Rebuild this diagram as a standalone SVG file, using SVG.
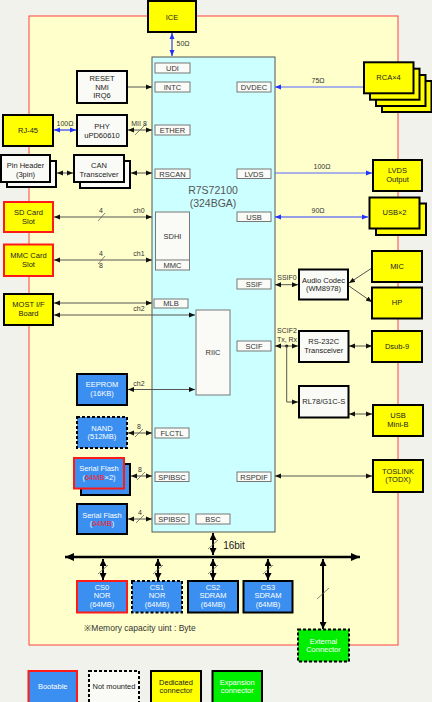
<svg xmlns="http://www.w3.org/2000/svg" width="432" height="702" viewBox="0 0 432 702">
<defs>
<style>
text{font-family:"Liberation Sans",Arial,sans-serif;font-size:7.5px;text-anchor:middle;fill:#222}
.w{fill:#fff}
.rt{fill:#ff2020}
.pt{fill:#333}
.yl{fill:#ffff00;stroke:#000;stroke-width:2}
.wh{fill:#fafaf6;stroke:#000;stroke-width:2}
.bl{fill:#3b8ff0;stroke:#000;stroke-width:2}
.gr{fill:#00ee00;stroke:#000;stroke-width:2}
.red{stroke:#ff1a1a}
.dash{stroke-dasharray:3 2}
.pin{fill:#fafaf6;stroke:#777;stroke-width:1}
.c{fill:none;stroke:#555;stroke-width:1;marker-start:url(#ah);marker-end:url(#ah)}
.c1{fill:none;stroke:#555;stroke-width:1;marker-end:url(#ah)}
.b{fill:none;stroke:#2a3cff;stroke-width:1.2;marker-start:url(#bh);marker-end:url(#bh)}
.b1{fill:none;stroke:#5566ff;stroke-width:1;marker-end:url(#bh)}
.bus{fill:none;stroke:#000;stroke-width:2.5;marker-start:url(#kh);marker-end:url(#kh)}
.vb{fill:none;stroke:#000;stroke-width:2;marker-start:url(#vh);marker-end:url(#vh)}
.sl{stroke:#666;stroke-width:0.8}
.lb{font-size:7px;fill:#333}
</style>
<marker id="ah" viewBox="0 0 6 6" refX="6" refY="3" markerWidth="6" markerHeight="6" markerUnits="userSpaceOnUse" orient="auto-start-reverse"><path d="M0,0.5 L6,3 L0,5.5z" fill="#111"/></marker>
<marker id="bh" viewBox="0 0 6 6" refX="6" refY="3" markerWidth="6" markerHeight="6" markerUnits="userSpaceOnUse" orient="auto-start-reverse"><path d="M0,0.5 L6,3 L0,5.5z" fill="#2233ff"/></marker>
<marker id="kh" viewBox="0 0 9 8" refX="9" refY="4" markerWidth="9" markerHeight="8" markerUnits="userSpaceOnUse" orient="auto-start-reverse"><path d="M0,0 L9,4 L0,8z" fill="#000"/></marker>
<marker id="vh" viewBox="0 0 7 7" refX="7" refY="3.5" markerWidth="7" markerHeight="7" markerUnits="userSpaceOnUse" orient="auto-start-reverse"><path d="M0,0 L7,3.5 L0,7z" fill="#000"/></marker>
</defs>
<rect x="0" y="0" width="432" height="702" fill="#f2f2ec"/>
<g id="board"><rect x="29" y="16" width="369" height="629" fill="#ffffcc" stroke="#ff4040" stroke-width="1"/></g>

<g id="chip">
<rect x="152" y="57" width="123" height="475" fill="#ccffff" stroke="#555" stroke-width="1"/>
<text x="213" y="194" style="font-size:10.5px;fill:#555">R7S72100</text>
<text x="213" y="207" style="font-size:10.5px;fill:#555">(324BGA)</text>
<rect class="pin" x="155" y="63" width="35" height="10"/><text class="pt" x="172.5" y="71">UDI</text>
<rect class="pin" x="155" y="82" width="35" height="10"/><text class="pt" x="172.5" y="90">INTC</text>
<rect class="pin" x="155" y="125" width="35" height="10"/><text class="pt" x="172.5" y="133">ETHER</text>
<rect class="pin" x="155" y="169" width="35" height="9.5"/><text class="pt" x="172.5" y="176.5">RSCAN</text>
<rect class="pin" x="237" y="82" width="34" height="10"/><text class="pt" x="254" y="90">DVDEC</text>
<rect class="pin" x="237" y="169" width="34" height="9.5"/><text class="pt" x="254" y="176.5">LVDS</text>
<rect class="pin" x="237" y="212" width="34" height="9.5"/><text class="pt" x="254" y="219.5">USB</text>
<rect class="pin" x="155.5" y="212" width="34" height="58"/><line x1="155.5" y1="260" x2="189.5" y2="260" stroke="#777"/>
<text class="pt" x="172.5" y="239">SDHI</text><text class="pt" x="172.5" y="268">MMC</text>
<rect class="pin" x="237" y="279" width="34" height="10"/><text class="pt" x="254" y="287">SSIF</text>
<rect class="pin" x="154" y="299" width="34" height="9"/><text class="pt" x="171" y="306">MLB</text>
<rect class="pin" x="196" y="310" width="34" height="85"/><text class="pt" x="213" y="355">RIIC</text>
<rect class="pin" x="237" y="341" width="34" height="10"/><text class="pt" x="254" y="349">SCIF</text>
<rect class="pin" x="155" y="428" width="34" height="10"/><text class="pt" x="172" y="436">FLCTL</text>
<rect class="pin" x="155" y="472" width="34" height="9.5"/><text class="pt" x="172" y="479.5">SPIBSC</text>
<rect class="pin" x="237" y="472" width="34" height="9.5"/><text class="pt" x="254" y="479.5">RSPDIF</text>
<rect class="pin" x="155" y="514" width="34" height="10"/><text class="pt" x="172" y="522">SPIBSC</text>
<rect class="pin" x="196" y="514" width="34" height="10"/><text class="pt" x="213" y="522">BSC</text>
</g>

<g id="connectors">
<path class="b" d="M172,33 V56"/><text class="lb" x="183" y="46">50Ω</text>
<path class="c1" d="M128,87 H152"/>
<path class="b" d="M54,130 H76"/><text class="lb" x="65" y="126">100Ω</text>
<path class="c" d="M128,130 H152"/><line class="sl" x1="135" y1="135" x2="146" y2="124"/><text class="lb" x="136" y="126">MII</text><text class="lb" x="145" y="126">8</text>
<path class="c" d="M57,173 H73"/>
<path class="c" d="M131,173 H152"/>
<path class="b1" d="M363,87 H275"/><text class="lb" x="318" y="83">75Ω</text>
<path class="b1" d="M275,173 H372"/><text class="lb" x="322" y="169">100Ω</text>
<path class="b" d="M275,217 H368"/><text class="lb" x="318" y="213">90Ω</text>
<path class="c" d="M54,217 H152"/><line class="sl" x1="98" y1="221" x2="105" y2="213"/><text class="lb" x="101" y="213">4</text><text class="lb" x="139" y="213">ch0</text>
<path class="c" d="M54,260 H152"/><line class="sl" x1="98" y1="264" x2="105" y2="256"/><text class="lb" x="101" y="256">4</text><text class="lb" x="101" y="268">8</text><text class="lb" x="139" y="256">ch1</text>
<path class="c" d="M54,303 H152"/>
<path class="c" d="M54,315 H195"/><text class="lb" x="139" y="311">ch2</text>
<path class="c" d="M128,389.5 H195"/><text class="lb" x="139" y="386">ch2</text>
<path class="c" d="M128,433 H152"/><line class="sl" x1="135" y1="437" x2="143" y2="429"/><text class="lb" x="139" y="429">8</text>
<path class="c" d="M131,476 H152"/><line class="sl" x1="137" y1="480" x2="145" y2="472"/><text class="lb" x="140" y="472">8</text>
<path class="c" d="M128,519 H152"/><line class="sl" x1="136" y1="523" x2="144" y2="515"/><text class="lb" x="140" y="515">4</text>
<path class="c" d="M275,284.7 H298"/><text class="lb" x="287" y="280">SSIF0</text>
<path class="c1" d="M372,268 L349,283"/>
<path class="c1" d="M349,286 L372,302"/>
<path class="c" d="M275,346 H298"/><text class="lb" x="287" y="333">SCIF2</text><text class="lb" x="287" y="342">Tx, Rx</text>
<circle cx="286.7" cy="346" r="1.6" fill="#222"/>
<path class="c1" d="M286.7,346 V402 H298"/>
<path class="c" d="M349,346 H372"/>
<path class="c" d="M349,414 H372"/>
<path class="c" d="M275,476 H372"/>
<path class="bus" d="M65,557 H360"/>
<path class="vb" d="M213,533 V555"/><line class="sl" x1="208" y1="549" x2="218" y2="540"/><text x="234" y="549" style="font-size:10px;fill:#222">16bit</text>
<path class="vb" d="M103,559 V580"/><line class="sl" x1="98" y1="574" x2="108" y2="565"/>
<path class="vb" d="M158,559 V580"/><line class="sl" x1="153" y1="574" x2="163" y2="565"/>
<path class="vb" d="M213,559 V580"/><line class="sl" x1="208" y1="574" x2="218" y2="565"/>
<path class="vb" d="M268,559 V580"/><line class="sl" x1="263" y1="574" x2="273" y2="565"/>
<path class="vb" d="M323,559 V629"/><line class="sl" x1="317" y1="599" x2="329" y2="588"/>
</g>

<g id="ice"><rect class="yl" x="148" y="1" width="48" height="31"/><text x="172" y="19.5">ICE</text></g>
<g id="reset"><rect class="wh" x="77" y="71" width="50" height="32"/><text x="102" y="81">RESET</text><text x="102" y="89.5">NMI</text><text x="102" y="98">IRQ6</text></g>
<g id="rj45"><rect class="yl" x="3" y="115" width="50" height="31"/><text x="28" y="133">RJ-45</text></g>
<g id="phy"><rect class="wh" x="77" y="115" width="50" height="31"/><text x="102" y="128.5">PHY</text><text x="102" y="137.5">uPD60610</text></g>
<g id="pinheader"><rect class="wh" x="7" y="161" width="49" height="26"/><rect class="wh" x="1" y="155" width="49" height="27"/><text x="25.5" y="167.7">Pin Header</text><text x="25.5" y="176.7">(3pin)</text></g>
<g id="can"><rect class="wh" x="80" y="161" width="50" height="27"/><rect class="wh" x="74" y="155" width="50" height="27"/><text x="99" y="168">CAN</text><text x="99" y="177">Transceiver</text></g>
<g id="sd"><rect class="yl red" x="4" y="202" width="49" height="30"/><text x="28.5" y="215">SD Card</text><text x="28.5" y="223.7">Slot</text></g>
<g id="mmc"><rect class="yl red" x="4" y="244.5" width="49" height="31.5"/><text x="28.5" y="258.3">MMC Card</text><text x="28.5" y="266.7">Slot</text></g>
<g id="most"><rect class="yl" x="4" y="294" width="49" height="31"/><text x="28.5" y="307.3">MOST I/F</text><text x="28.5" y="316">Board</text></g>
<g id="eeprom"><rect class="bl" x="77" y="374" width="50" height="31"/><text class="w" x="102" y="387.3">EEPROM</text><text class="w" x="102" y="396">(16KB)</text></g>
<g id="nand"><rect class="bl dash" x="77" y="417" width="50" height="31"/><text class="w" x="102" y="431">NAND</text><text class="w" x="102" y="439.3">(512MB)</text></g>
<g id="sflash2"><rect class="bl" x="81" y="464" width="49" height="31"/><rect class="bl red" x="74" y="458" width="50" height="30.5"/><text class="w" x="99" y="471">Serial Flash</text><text class="w" x="99" y="480">(<tspan class="rt">64MB</tspan>×2)</text></g>
<g id="sflash"><rect class="bl" x="77" y="504" width="50" height="30"/><text class="w" x="102" y="517.7">Serial Flash</text><text class="w" x="102" y="526">(<tspan class="rt">64MB</tspan>)</text></g>

<g id="rca"><rect class="yl" x="382" y="81" width="49.5" height="31"/><rect class="yl" x="376" y="75" width="49.5" height="31"/><rect class="yl" x="370" y="68.7" width="49.5" height="31"/><rect class="yl" x="364" y="62.3" width="49.5" height="31"/><text x="388.5" y="80">RCA×4</text></g>
<g id="lvds"><rect class="yl" x="373" y="160" width="49" height="31"/><text x="397.5" y="173.3">LVDS</text><text x="397.5" y="182.3">Output</text></g>
<g id="usb2"><rect class="yl" x="376" y="203.5" width="50" height="31.5"/><rect class="yl" x="369.5" y="197.5" width="50" height="31"/><text x="394.5" y="215">USB×2</text></g>
<g id="mic"><rect class="yl" x="372" y="251" width="50" height="31"/><text x="397" y="268.7">MIC</text></g>
<g id="hp"><rect class="yl" x="372" y="287.5" width="50" height="31"/><text x="397" y="305.3">HP</text></g>
<g id="codec"><rect class="wh" x="299" y="269.5" width="49" height="30"/><text x="323.5" y="282.7">Audio Codec</text><text x="323.5" y="291">(WM8978)</text></g>
<g id="rs232"><rect class="wh" x="299" y="331" width="49.5" height="31"/><text x="323.7" y="344.3">RS-232C</text><text x="323.7" y="353.3">Transceiver</text></g>
<g id="dsub"><rect class="yl" x="372" y="331" width="50" height="31"/><text x="397" y="348.7">Dsub-9</text></g>
<g id="rl78"><rect class="wh" x="299" y="386" width="49.5" height="31.5"/><text x="323.7" y="404.3">RL78/G1C-S</text></g>
<g id="usbmini"><rect class="yl" x="373" y="405" width="50" height="31"/><text x="398" y="418.3">USB</text><text x="398" y="427">Mini-B</text></g>
<g id="toslink"><rect class="yl" x="373" y="460" width="50" height="32"/><text x="398" y="473.7">TOSLINK</text><text x="398" y="481.7">(TODX)</text></g>

<g id="cs0"><rect class="bl red" x="77" y="581" width="50" height="31.5"/><text class="w" x="102" y="590">CS0</text><text class="w" x="102" y="598.3">NOR</text><text class="w" x="102" y="606.7">(64MB)</text></g>
<g id="cs1"><rect class="bl dash" x="132" y="581" width="50" height="31.5"/><text class="w" x="157" y="590">CS1</text><text class="w" x="157" y="598.3">NOR</text><text class="w" x="157" y="606.7">(64MB)</text></g>
<g id="cs2"><rect class="bl" x="188" y="581" width="50" height="31.5"/><text class="w" x="213" y="590">CS2</text><text class="w" x="213" y="598.3">SDRAM</text><text class="w" x="213" y="606.7">(64MB)</text></g>
<g id="cs3"><rect class="bl" x="243.5" y="581" width="49" height="31.5"/><text class="w" x="268" y="590">CS3</text><text class="w" x="268" y="598.3">SDRAM</text><text class="w" x="268" y="606.7">(64MB)</text></g>
<g id="external"><rect class="gr dash" x="298" y="629.5" width="51" height="32"/><text class="w" x="323.5" y="644">External</text><text class="w" x="323.5" y="652">Connector</text></g>
<g id="note"><text x="140" y="631" style="font-size:8.5px;fill:#333">※Memory capacity uint : Byte</text></g>

<g id="legend">
<rect class="bl red" x="28.5" y="671" width="48.5" height="33"/><text class="w" x="52.7" y="689">Bootable</text>
<rect class="wh dash" x="89" y="671" width="50" height="33"/><text x="114" y="689">Not mounted</text>
<rect class="yl" x="151" y="671" width="50" height="33"/><text x="176" y="685">Dedicated</text><text x="176" y="693">connector</text>
<rect class="gr" x="212.5" y="671" width="49.5" height="33"/><text class="w" x="237.2" y="685">Expansion</text><text class="w" x="237.2" y="693">connector</text>
</g>
</svg>
